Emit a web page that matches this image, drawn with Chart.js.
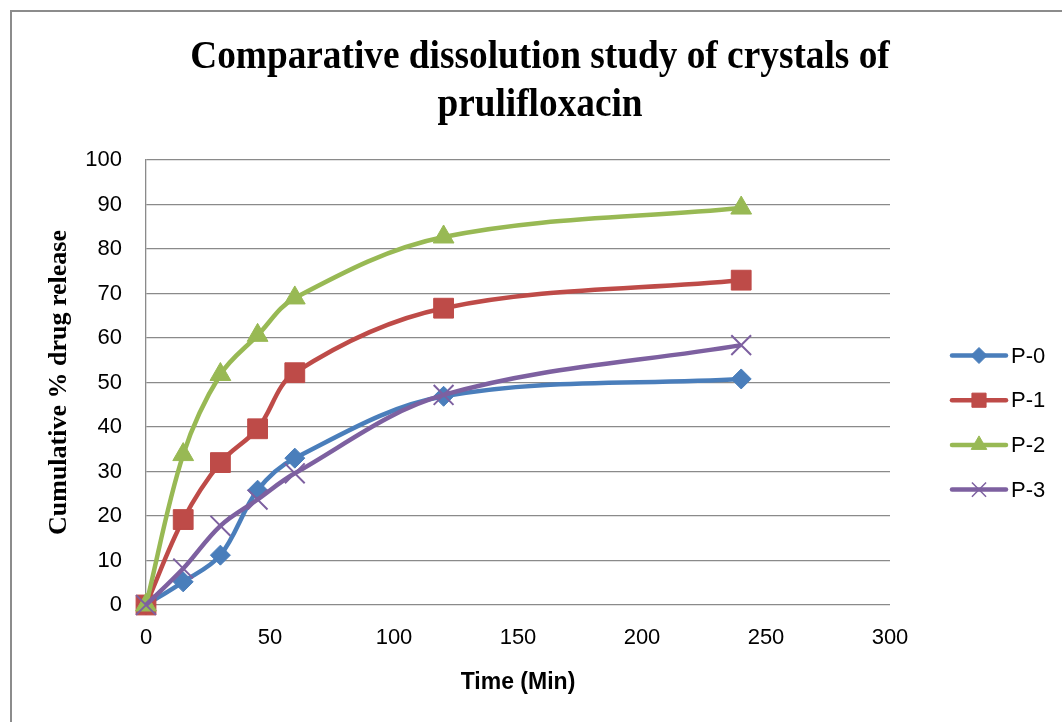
<!DOCTYPE html>
<html>
<head>
<meta charset="utf-8">
<script src="https://cdn.jsdelivr.net/npm/chart.js@4/dist/chart.umd.min.js"></script>
<style>
  html, body { margin: 0; padding: 0; background: #fff; }
  #wrap { width: 1062px; height: 722px; }
</style>
</head>
<body>
<div id="wrap"><canvas id="chart" width="1062" height="722"></canvas></div>
<script>
// sampling times (min)
const times = [0, 15, 30, 45, 60, 120, 240];
// cumulative % drug release per batch
const p0 = [0, 5.2, 11.2, 25.8, 33.0, 46.9, 50.8];
const p1 = [0, 19.2, 32.0, 39.6, 52.2, 66.7, 73.0];
const p2 = [0, 33.8, 51.8, 60.6, 69.0, 82.7, 89.2];
const p3 = [0, 8.2, 17.8, 23.7, 29.6, 47.2, 58.4];
const seriesNames = ['P-0', 'P-1', 'P-2', 'P-3'];
const xTicks = [0, 50, 100, 150, 200, 250, 300];
const titleLines = ['Comparative dissolution study of crystals of', 'prulifloxacin'];

const colors = ['#4a7ebb', '#be4b48', '#98b954', '#7d60a0'];
const markers = ['rectRot', 'rect', 'triangle', 'crossRot'];
const markerSize = [10, 14, 12, 14];
const legendMarkerSize = [8, 10, 9, 10];

const sansFont = '"Liberation Sans", Arial, sans-serif';
const serifFont = '"Liberation Serif", "Times New Roman", serif';

const toPoints = (vals) => vals.map((v, i) => ({ x: times[i], y: v }));

const datasets = [p0, p1, p2, p3].map((vals, i) => ({
  label: seriesNames[i],
  data: toPoints(vals),
  borderColor: colors[i],
  backgroundColor: colors[i],
  borderWidth: 4.5,
  tension: 0.35,
  clip: false,
  pointStyle: markers[i],
  pointRadius: markerSize[i],
  pointBorderWidth: i === 3 ? 2 : 1,
  pointBorderColor: colors[i],
  pointBackgroundColor: colors[i],
  order: 3 - i
}));

// outer frame + title like the exported office chart
const framePlugin = {
  id: 'frame',
  beforeDraw(chart) {
    const ctx = chart.ctx;
    ctx.save();
    ctx.fillStyle = '#fff';
    ctx.fillRect(0, 0, chart.width, chart.height);
    ctx.strokeStyle = '#8c8c8c';
    ctx.lineWidth = 2;
    ctx.strokeRect(11, 11, chart.width + 20, chart.height + 20);

    // title, a bit condensed like the original
    ctx.fillStyle = '#000';
    ctx.font = 'bold 41px ' + serifFont;
    ctx.textAlign = 'center';
    ctx.textBaseline = 'middle';
    const cx = 540;
    titleLines.forEach((line, i) => {
      ctx.save();
      ctx.translate(cx, 57 + i * 48);
      ctx.scale(0.91, 1);
      ctx.fillText(line, 0, 0);
      ctx.restore();
    });
    ctx.restore();
  }
};

// legend with line + marker in the middle
const lineLegend = {
  id: 'lineLegend',
  afterDraw(chart) {
    const ctx = chart.ctx;
    const area = chart.chartArea;
    const x0 = area.right + 62;
    const yStart = (area.top + area.bottom) / 2 - 27;
    ctx.save();
    chart.data.datasets.forEach((ds, i) => {
      const y = yStart + i * 44.7;
      ctx.strokeStyle = ds.borderColor;
      ctx.lineWidth = 4.5;
      ctx.lineCap = 'round';
      ctx.beginPath();
      ctx.moveTo(x0, y);
      ctx.lineTo(x0 + 54, y);
      ctx.stroke();
      ctx.lineCap = 'butt';
      ctx.fillStyle = ds.backgroundColor;
      ctx.strokeStyle = ds.borderColor;
      ctx.lineWidth = i === 3 ? 1.5 : 1;
      Chart.helpers.drawPoint(ctx, {
        pointStyle: ds.pointStyle, rotation: 0, radius: legendMarkerSize[i], borderWidth: ctx.lineWidth
      }, x0 + 27, y);
      ctx.fillStyle = '#000';
      ctx.font = '22px ' + sansFont;
      ctx.textBaseline = 'middle';
      ctx.textAlign = 'left';
      ctx.fillText(ds.label, x0 + 59, y + 1);
    });
    ctx.restore();
  }
};

new Chart(document.getElementById('chart'), {
  type: 'line',
  data: { datasets },
  plugins: [framePlugin, lineLegend],
  options: {
    responsive: false,
    animation: false,
    layout: { padding: { left: 0, right: 172, top: 160, bottom: 0 } },
    plugins: {
      legend: { display: false },
      tooltip: { enabled: false },
      title: { display: false }
    },
    scales: {
      x: {
        type: 'linear',
        min: 0,
        max: 300,
        afterBuildTicks(scale) { scale.ticks = xTicks.map(v => ({ value: v })); },
        afterFit(scale) { scale.height = 117; },
        grid: { display: false, drawTicks: false },
        border: { display: false },
        ticks: {
          padding: 20,
          color: '#000',
          font: { family: sansFont, size: 22 }
        },
        title: {
          display: true,
          text: 'Time (Min)',
          color: '#000',
          font: { family: sansFont, size: 23, weight: 'bold' },
          padding: { top: 0, bottom: 26 }
        }
      },
      y: {
        min: 0,
        max: 100,
        afterFit(scale) { scale.width = 146; },
        ticks: {
          stepSize: 10,
          padding: 24,
          color: '#000',
          font: { family: sansFont, size: 22 }
        },
        grid: { color: '#8a8a8a', lineWidth: 1.3, drawTicks: false },
        border: { display: true, color: '#8a8a8a', width: 1.3 },
        title: {
          display: true,
          text: 'Cumulative % drug release',
          color: '#000',
          font: { family: serifFont, size: 26, weight: 'bold' },
          padding: { top: 44, bottom: 0 }
        }
      }
    }
  }
});
</script>
</body>
</html>
